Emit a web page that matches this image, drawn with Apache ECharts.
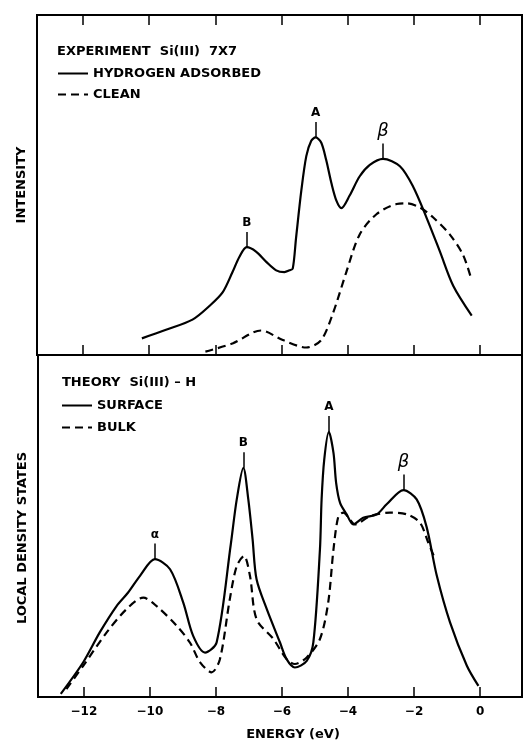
<!DOCTYPE html>
<html>
<head>
<meta charset="utf-8">
<title>Si(111) photoemission vs theory</title>
<script src="https://cdn.jsdelivr.net/npm/echarts@6/dist/echarts.min.js"></script>
<style>
  html, body { margin: 0; padding: 0; background: #fff; }
  #main { width: 524px; height: 742px; }
</style>
</head>
<body>
<div id="main"></div>
<script>
// energy ticks (eV)
var energyTicks = [-12, -10, -8, -6, -4, -2, 0];

// top panel: experiment, hydrogen adsorbed (solid)
var hydE = [-10.22, -9.49, -8.69, -8.18, -7.78, -7.48, -7.27, -7.05, -6.77, -6.46, -6.16, -5.91, -5.76, -5.66, -5.56, -5.40, -5.25, -5.10, -4.97, -4.80, -4.65, -4.49, -4.34, -4.19, -3.94, -3.64, -3.33, -2.93, -2.42, -2.02, -1.62, -1.21, -0.81, -0.25];
var hydI = [4.9, 7.4, 10.4, 14.4, 18.4, 24.4, 28.9, 31.7, 30.4, 27.4, 24.9, 24.4, 24.9, 25.4, 34.4, 48.4, 58.5, 63.0, 64.0, 62.5, 57.4, 50.5, 45.4, 43.2, 46.9, 52.5, 55.9, 57.7, 55.5, 49.5, 40.5, 30.4, 20.4, 11.6];

// top panel: experiment, clean (dashed)
var cleanE = [-8.30, -7.48, -6.62, -5.96, -5.25, -4.80, -4.44, -4.04, -3.64, -3.13, -2.52, -2.22, -1.82, -1.42, -0.91, -0.51, -0.25];
var cleanI = [1.0, 3.4, 7.2, 4.4, 2.2, 4.4, 12.4, 24.4, 35.4, 41.4, 44.4, 44.6, 43.4, 40.5, 35.4, 29.4, 21.9];

// bottom panel: theory, surface (solid)
var surfE = [-12.70, -12.02, -11.52, -11.01, -10.66, -10.30, -9.85, -9.39, -8.99, -8.69, -8.33, -7.98, -7.55, -7.37, -7.17, -7.02, -6.89, -6.77, -6.46, -6.06, -5.86, -5.61, -5.25, -5.05, -4.85, -4.80, -4.72, -4.58, -4.44, -4.36, -4.24, -4.04, -3.84, -3.54, -3.13, -2.83, -2.32, -1.92, -1.62, -1.31, -0.91, -0.40, -0.05];
var surfD = [0.9, 10.0, 18.6, 26.2, 30.1, 34.9, 39.7, 36.8, 27.2, 17.6, 12.8, 15.7, 44.0, 56.9, 66.0, 56.9, 45.4, 33.9, 25.3, 15.7, 10.9, 8.5, 10.4, 15.7, 42.5, 56.9, 68.4, 76.4, 70.3, 61.7, 55.9, 52.6, 49.7, 51.6, 52.6, 55.5, 59.6, 56.9, 49.0, 34.9, 21.5, 9.0, 3.2];

// bottom panel: theory, bulk (dashed)
var bulkE = [-12.53, -12.02, -11.31, -10.71, -10.20, -9.80, -9.19, -8.79, -8.48, -8.13, -7.88, -7.58, -7.37, -7.15, -6.97, -6.77, -6.26, -5.86, -5.61, -5.25, -4.85, -4.60, -4.44, -4.29, -4.14, -3.94, -3.79, -3.33, -2.73, -2.22, -1.82, -1.57, -1.40];
var bulkD = [2.3, 9.0, 18.6, 25.3, 28.6, 26.2, 20.5, 15.7, 10.0, 7.1, 10.9, 28.2, 37.7, 40.6, 34.9, 22.4, 16.7, 10.9, 9.5, 11.4, 16.7, 27.2, 42.5, 52.1, 53.1, 51.1, 49.7, 52.1, 53.1, 52.6, 50.2, 44.5, 40.6];

// peak labels (energy of the peak, value looked up in the curve)
var topPeakNames = ['B', 'A', 'β'];
var topPeakE = [-7.05, -4.97, -2.93];
var botPeakNames = ['α', 'B', 'A', 'β'];
var botPeakE = [-9.85, -7.17, -4.58, -2.32];

function zip(a, b) {
    var out = [];
    for (var i = 0; i < a.length; i++) out.push([a[i], b[i]]);
    return out;
}

function peakLines(names, es, xs, ys) {
    var out = [];
    for (var i = 0; i < names.length; i++) {
        var v = ys[xs.indexOf(es[i])];
        out.push([
            { name: names[i], coord: [es[i], v] },
            { coord: [es[i], v + 4.5] }
        ]);
    }
    return out;
}

var font = 'DejaVu Sans';
var peakLabel = {
    show: true,
    position: 'end',
    distance: 3,
    formatter: function (p) {
        return p.name === 'β' ? '{g|β}' : '{l|' + p.name + '}';
    },
    rich: {
        l: { fontFamily: font, fontWeight: 'bold', fontSize: 12, color: '#000' },
        g: { fontFamily: font, fontStyle: 'italic', fontSize: 18, color: '#000' }
    }
};

function markLines(data) {
    return {
        silent: true,
        symbol: ['none', 'none'],
        lineStyle: { color: '#000', width: 1.5, type: 'solid' },
        label: peakLabel,
        emphasis: { disabled: true },
        data: data
    };
}

var tickStyle = { show: true, inside: true, length: 10, customValues: energyTicks, lineStyle: { color: '#000', width: 1.5 } };

function xAx(grid, pos, labels) {
    return {
        type: 'value', gridIndex: grid, position: pos,
        min: -13.39, max: 1.27,
        axisLine: { show: false },
        axisTick: tickStyle,
        splitLine: { show: false },
        axisLabel: labels ? {
            show: true, customValues: energyTicks, margin: 9,
            fontFamily: font, fontWeight: 'bold', fontSize: 12, color: '#000',
            formatter: function (v) { return v < 0 ? '\u2212' + (-v) : '' + v; }
        } : { show: false },
        name: labels ? 'ENERGY (eV)' : '',
        nameLocation: 'middle', nameGap: 31,
        nameTextStyle: { fontFamily: font, fontWeight: 'bold', fontSize: 13, color: '#000', padding: [0, 0, 0, 26] }
    };
}

function yAx(grid, max, name, shift) {
    return {
        type: 'value', gridIndex: grid, min: 0, max: max,
        axisLine: { show: false }, axisTick: { show: false },
        axisLabel: { show: false }, splitLine: { show: false },
        name: name, nameLocation: 'middle', nameGap: 9,
        nameTextStyle: { fontFamily: font, fontWeight: 'bold', fontSize: 13, color: '#000', padding: [0, shift, 0, 0] }
    };
}

var legendText = { fontFamily: font, fontWeight: 'bold', fontSize: 13, color: '#000' };

var myChart = echarts.init(document.getElementById('main'));
var option = {
    animation: false,
    backgroundColor: '#fff',
    title: [
        { text: 'EXPERIMENT  Si(III)  7X7', left: 57, top: 45, padding: 0, textStyle: legendText },
        { text: 'THEORY  Si(III) \u2013 H', left: 62, top: 376, padding: 0, textStyle: legendText }
    ],
    legend: [
        {
            data: ['HYDROGEN ADSORBED', 'CLEAN'], orient: 'vertical',
            left: 57, top: 67, padding: 0, itemWidth: 30, itemHeight: 12, itemGap: 8,
            itemStyle: { opacity: 0 },
            textStyle: legendText, selectedMode: false
        },
        {
            data: ['SURFACE', 'BULK'], orient: 'vertical',
            left: 61, top: 399, padding: 0, itemWidth: 30, itemHeight: 12, itemGap: 9,
            itemStyle: { opacity: 0 },
            textStyle: legendText, selectedMode: false
        }
    ],
    grid: [
        { left: 37, right: 2, top: 15, height: 340, show: true, borderColor: '#000', borderWidth: 2, backgroundColor: 'transparent' },
        { left: 38, right: 2, top: 355, height: 343, show: true, borderColor: '#000', borderWidth: 2, backgroundColor: 'transparent' }
    ],
    xAxis: [xAx(0, 'bottom', false), xAx(0, 'top', false), xAx(1, 'bottom', true)],
    yAxis: [yAx(0, 100, 'INTENSITY', 0), yAx(1, 98.5, 'LOCAL DENSITY STATES', 24)],
    series: [
        {
            name: 'HYDROGEN ADSORBED', type: 'line', xAxisIndex: 0, yAxisIndex: 0,
            data: zip(hydE, hydI), smooth: 0.3, symbol: 'none',
            lineStyle: { color: '#000', width: 2.2 }, itemStyle: { color: '#000' },
            markLine: markLines(peakLines(topPeakNames, topPeakE, hydE, hydI))
        },
        {
            name: 'CLEAN', type: 'line', xAxisIndex: 0, yAxisIndex: 0,
            data: zip(cleanE, cleanI), smooth: 0.3, symbol: 'none',
            lineStyle: { color: '#000', width: 2.2, type: [8, 5] }, itemStyle: { color: '#000' }
        },
        {
            name: 'SURFACE', type: 'line', xAxisIndex: 2, yAxisIndex: 1,
            data: zip(surfE, surfD), smooth: 0.3, symbol: 'none',
            lineStyle: { color: '#000', width: 2.2 }, itemStyle: { color: '#000' },
            markLine: markLines(peakLines(botPeakNames, botPeakE, surfE, surfD))
        },
        {
            name: 'BULK', type: 'line', xAxisIndex: 2, yAxisIndex: 1,
            data: zip(bulkE, bulkD), smooth: 0.3, symbol: 'none',
            lineStyle: { color: '#000', width: 2.2, type: [8, 5] }, itemStyle: { color: '#000' }
        }
    ]
};
myChart.setOption(option);
</script>
</body>
</html>
